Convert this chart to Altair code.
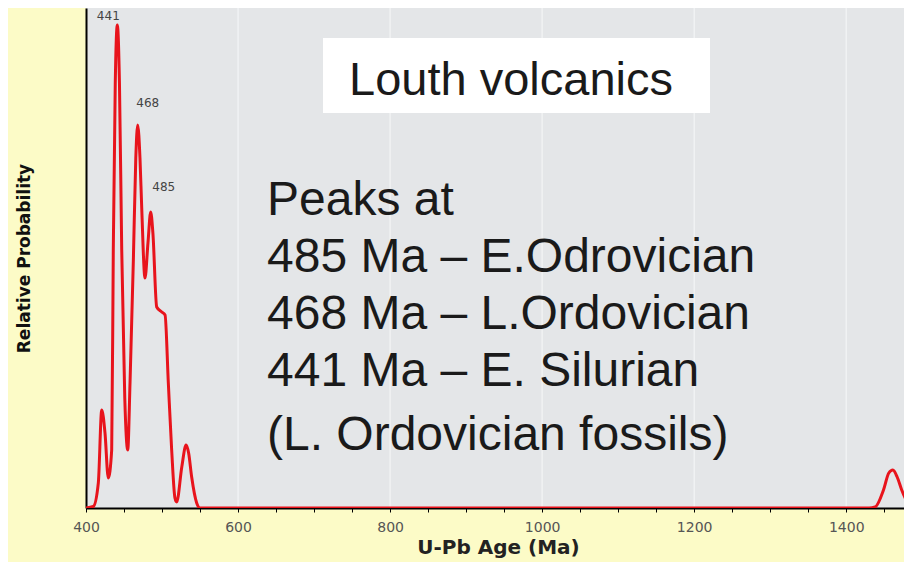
import altair as alt
import pandas as pd

# ---- data ----
ages = [400, 409.6, 416.2, 420.7, 425, 429.3, 433.8, 435.9, 438.5, 441.2, 444, 447, 451, 454.9,
        457.9, 462.3, 465.5, 468, 471, 473.3, 477.6, 481.5, 485.1, 488, 493, 499.6, 504, 508.3,
        512.7, 517, 519.3, 526, 531.6, 535, 539, 545.6, 550, 1430, 1438, 1449, 1456, 1461.4,
        1467, 1473, 1484]
prob = [0.0, 0.003, 0.05, 0.196, 0.15, 0.06, 0.116, 0.516, 0.85, 0.966, 0.85, 0.516, 0.22, 0.116,
        0.25, 0.496, 0.70, 0.766, 0.70, 0.60, 0.46, 0.53, 0.592, 0.55, 0.402, 0.392, 0.386, 0.25,
        0.116, 0.02, 0.012, 0.082, 0.126, 0.11, 0.062, 0.01, 0.0, 0.0, 0.002, 0.036, 0.07, 0.076,
        0.062, 0.036, 0.0]

peak_ages = [441.2, 468, 485.1]
peak_probs = [0.966, 0.766, 0.592]
peak_labels = ["441", "468", "485"]

x_ticks = list(range(400, 1476, 50))
grid_ages = [600, 800, 1000, 1200, 1400]

box_title = "Louth volcanics"
peak_lines = ["Peaks at", "485 Ma – E.Odrovician", "468 Ma – L.Ordovician", "441 Ma – E. Silurian"]
fossil_line = "(L. Ordovician fossils)"

x_title = "U-Pb Age (Ma)"
y_title = "Relative Probability"

# ---- tables ----
curve = pd.DataFrame({"age": ages, "prob": prob})
peaks = pd.DataFrame({"age": peak_ages, "prob": peak_probs, "label": peak_labels})
grid = pd.DataFrame({"age": grid_ages, "prob": [0.0] * len(grid_ages), "prob2": [1.0] * len(grid_ages)})
one = alt.Data(values=[{"k": 0}])

xscale = alt.Scale(domain=[400, 1476], nice=False, zero=False)
yscale = alt.Scale(domain=[0, 1], nice=False, zero=True)

x_axis = alt.Axis(
    title=x_title, values=x_ticks, format="d",
    labelExpr="datum.value % 200 == 0 ? datum.label : ''",
    labelOverlap=False, labelFlush=False, grid=False,
    domainColor="#000000", domainWidth=2,
    tickColor="#000000", tickSize=4, tickWidth=1,
    labelFont="DejaVu Sans", labelFontSize=14, labelColor="#555555", labelPadding=8,
    titleFont="DejaVu Sans", titleFontWeight="bold", titleFontSize=20,
    titleColor="#222222", titlePadding=3, titleX=412,
)
y_axis = alt.Axis(
    title=y_title, labels=False, ticks=False, grid=False,
    domainColor="#000000", domainWidth=2,
    titleFont="DejaVu Sans", titleFontWeight="bold", titleFontSize=17,
    titleColor="#111111", titlePadding=53,
)

X = alt.X("age:Q", scale=xscale, axis=x_axis)
Y = alt.Y("prob:Q", scale=yscale, axis=y_axis)

grid_layer = alt.Chart(grid).mark_rule(color="#f4f5f6", strokeWidth=1.5, opacity=0.8).encode(
    x=X, y=Y, y2="prob2:Q"
)

curve_layer = alt.Chart(curve).mark_line(
    color="#e8141c", strokeWidth=3, interpolate="monotone", clip=True
).encode(x=X, y=Y)

offsets = [(-9, -9), (10, -22), (13, -25)]
label_layers = []
for lab, (ddx, ddy) in zip(peak_labels, offsets):
    label_layers.append(
        alt.Chart(peaks).transform_filter(alt.datum.label == lab).mark_text(
            font="DejaVu Sans", fontSize=12, color="#444444", dx=ddx, dy=ddy, baseline="middle"
        ).encode(x=X, y=Y, text="label:N")
    )

box = alt.Chart(one).mark_rect(color="#ffffff").encode(
    x=alt.value(237), x2=alt.value(624), y=alt.value(30), y2=alt.value(105)
)
box_text = alt.Chart(one).mark_text(
    text=box_title, font="Liberation Sans", fontSize=47, color="#1a1a1a",
    align="center", baseline="alphabetic"
).encode(x=alt.value(425), y=alt.value(87))

peaks_text = alt.Chart(one).mark_text(
    text=peak_lines, font="Liberation Sans", fontSize=48, color="#1a1a1a",
    align="left", baseline="alphabetic", lineHeight=57
).encode(x=alt.value(181), y=alt.value(207))

fossil_text = alt.Chart(one).mark_text(
    text=fossil_line, font="Liberation Sans", fontSize=48, color="#1a1a1a",
    align="left", baseline="alphabetic"
).encode(x=alt.value(181), y=alt.value(442))

chart = alt.layer(
    grid_layer, curve_layer, *label_layers, box, box_text, peaks_text, fossil_text
).properties(
    width=818, height=500,
    background="#fcfbc7",
    padding={"left": 78, "top": 0, "right": 0, "bottom": 54},
    autosize=alt.AutoSizeParams(type="none"),
).configure_view(fill="#e4e6e8", stroke=None)

chart.save("out.html", embed_options={"renderer": "svg", "actions": False})
